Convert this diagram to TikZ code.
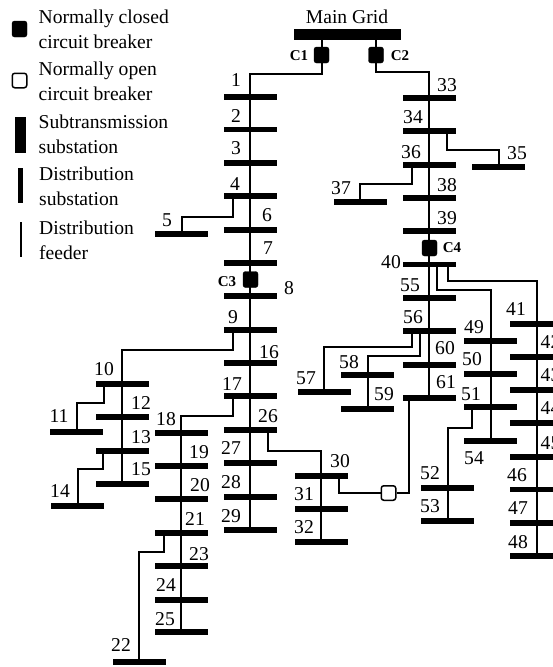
\documentclass[tikz,border=0pt]{standalone}
\usepackage{fontspec}
\setmainfont{Liberation Serif}
\usetikzlibrary{positioning}

\begin{document}
\begin{tikzpicture}[x=1pt,y=-1pt,
  bus/.style={fill=black,inner sep=0pt,minimum width=53pt,minimum height=5.2pt},
  num/.style={inner sep=0pt,font=\fontsize{19.6}{19.6}\selectfont},
  tag/.style={inner sep=0pt,font=\fontsize{15}{15}\selectfont\bfseries},
  closedcb/.style={fill=black,draw=black,rounded corners=2.5pt,inner sep=0pt,minimum width=15pt,minimum height=16pt},
  opencb/.style={fill=white,draw=black,line width=1.5pt,rounded corners=2.5pt,inner sep=0pt,minimum width=14.5pt,minimum height=14.5pt},
  legend/.style={inner sep=0pt,anchor=west,align=left,font=\fontsize{19.6}{24.6}\selectfont},
  feeder/.style={line width=2pt,line join=miter}]
\useasboundingbox (0,0) rectangle (553,667);
% legend
\node[closedcb] (keyC) at (19.5,29) {};
\node[opencb] (keyO) at (19.5,80.5) {};
\node[fill=black,inner sep=0pt,minimum width=11pt,minimum height=36pt] (keyS) at (20.5,135) {};
\node[fill=black,inner sep=0pt,minimum width=5.5pt,minimum height=35pt] (keyD) at (20.5,185.5) {};
\node[fill=black,inner sep=0pt,minimum width=2pt,minimum height=35pt] (keyF) at (20.5,239.5) {};
\node[legend] (txtC) at (38.5,29.5) {Normally closed\\circuit breaker};
\node[legend] (txtO) at (38.5,81) {Normally open\\circuit breaker};
\node[legend] (txtS) at (38.5,134) {Subtransmission\\substation};
\node[legend] (txtD) at (39,186) {Distribution\\substation};
\node[legend] (txtF) at (39,240) {Distribution\\feeder};
% main grid
\node[fill=black,inner sep=0pt,minimum width=107pt,minimum height=11pt] (grid) at (347.5,34) {};
\node[num] (gridtxt) at (347,17) {Main Grid};
\node[closedcb] (C1) at (321.5,55) {};
\node[closedcb] (C2) at (376,55) {};
\node[tag] (C1txt) at (299,55.5) {C1};
\node[tag] (C2txt) at (400,55.5) {C2};
\coordinate (j1) at (250,74);
\coordinate (j33) at (429,72);
\draw[feeder] (grid -| C1) -- (C1) |- (j1) -- (250,97);
\draw[feeder] (grid -| C2) -- (C2) |- (j33) -- (429,98);
% left feeder
\draw[feeder] (250,97) -- (250,530);
\node[bus] (b1) at (250.5,97) {}; \node[num] (n1) at (236,80) {1};
\node[bus] (b2) at (250.5,129.5) {}; \node[num] (n2) at (236,116) {2};
\node[bus] (b3) at (250.5,163) {}; \node[num] (n3) at (236,148) {3};
\node[bus] (b4) at (250.5,196) {}; \node[num] (n4) at (235,184) {4};
\node[bus] (b6) at (250.5,230) {}; \node[num] (n6) at (267,215) {6};
\node[bus] (b7) at (250.5,263) {}; \node[num] (n7) at (268,248) {7};
\node[bus] (b8) at (250.5,296) {}; \node[num] (n8) at (289,288) {8};
\node[bus] (b9) at (250.5,330) {}; \node[num] (n9) at (233,317) {9};
\node[bus] (b16) at (250.5,363) {}; \node[num] (n16) at (269,352) {16};
\node[bus] (b17) at (250.5,396) {}; \node[num] (n17) at (232,384) {17};
\node[bus] (b26) at (250.5,430) {}; \node[num] (n26) at (268,416) {26};
\node[bus] (b27) at (250.5,463) {}; \node[num] (n27) at (231,448) {27};
\node[bus] (b28) at (250.5,497) {}; \node[num] (n28) at (231,482) {28};
\node[bus] (b29) at (250.5,530) {}; \node[num] (n29) at (231,516) {29};
\node[closedcb] (C3) at (250.5,279.5) {};
\node[tag] (C3txt) at (227,282) {C3};
% bus 5
\coordinate (j5) at (233,217);
\draw[feeder] (b4 -| j5) -- (j5) -| (182,234);
\node[bus] (b5) at (181,234) {}; \node[num] (n5) at (167,220) {5};
% buses 10 to 15
\coordinate (j10) at (233,350);
\draw[feeder] (b9 -| j10) -- (j10) -| (122,484);
\node[bus] (b10) at (122.5,384) {}; \node[num] (n10) at (104,369) {10};
\node[bus] (b12) at (122,417) {}; \node[num] (n12) at (141,403) {12};
\node[bus] (b13) at (122,451) {}; \node[num] (n13) at (141,437) {13};
\node[bus] (b15) at (122,484) {}; \node[num] (n15) at (141,469) {15};
\coordinate (j11) at (104,403);
\draw[feeder] (b10 -| j11) -- (j11) -| (77,432);
\node[bus] (b11) at (76.5,432) {}; \node[num] (n11) at (59,416) {11};
\coordinate (j14) at (103,469);
\draw[feeder] (b13 -| j14) -- (j14) -| (78,506);
\node[bus] (b14) at (77.5,506) {}; \node[num] (n14) at (60,491) {14};
% buses 18 to 25
\coordinate (j18) at (233,416);
\draw[feeder] (b17 -| j18) -- (j18) -| (181,632);
\node[bus] (b18) at (181,433) {}; \node[num] (n18) at (166,419) {18};
\node[bus] (b19) at (181,466) {}; \node[num] (n19) at (199,452) {19};
\node[bus] (b20) at (181,499) {}; \node[num] (n20) at (200,485) {20};
\node[bus] (b21) at (181,533) {}; \node[num] (n21) at (195,519) {21};
\node[bus] (b23) at (181,566) {}; \node[num] (n23) at (199,554) {23};
\node[bus] (b24) at (181,600) {}; \node[num] (n24) at (166,585) {24};
\node[bus] (b25) at (181,632) {}; \node[num] (n25) at (165,619) {25};
\coordinate (j22) at (164,552);
\draw[feeder] (b21 -| j22) -- (j22) -| (139,662);
\node[bus] (b22) at (139.5,662) {}; \node[num] (n22) at (121,645) {22};
% buses 30 to 32
\coordinate (j30) at (268,451);
\draw[feeder] (b26 -| j30) -- (j30) -| (321,542);
\node[bus] (b30) at (321,476) {}; \node[num] (n30) at (340,461) {30};
\node[bus] (b31) at (321,509) {}; \node[num] (n31) at (304,494) {31};
\node[bus] (b32) at (321,542) {}; \node[num] (n32) at (304,527) {32};
% right feeder
\draw[feeder] (429,98) -- (429,398);
\node[bus] (b33) at (429.5,98) {}; \node[num] (n33) at (447,85) {33};
\node[bus] (b34) at (429.5,131) {}; \node[num] (n34) at (413,117) {34};
\node[bus] (b36) at (429.5,165) {}; \node[num] (n36) at (411,152) {36};
\node[bus] (b38) at (429.5,198) {}; \node[num] (n38) at (447,185) {38};
\node[bus] (b39) at (429.5,231) {}; \node[num] (n39) at (447,218) {39};
\node[bus] (b40) at (429.5,264.5) {}; \node[num] (n40) at (391,262) {40};
\node[bus] (b55) at (429.5,298) {}; \node[num] (n55) at (410,285) {55};
\node[bus] (b56) at (429.5,331) {}; \node[num] (n56) at (413,317) {56};
\node[bus] (b60) at (429.5,365) {}; \node[num] (n60) at (445,348) {60};
\node[bus] (b61) at (429.5,398) {}; \node[num] (n61) at (446,382) {61};
\node[closedcb] (C4) at (429.5,248) {};
\node[tag] (C4txt) at (452,248) {C4};
% bus 35 and bus 37
\coordinate (j35) at (447,150);
\draw[feeder] (b34 -| j35) -- (j35) -| (499,167);
\node[bus] (b35) at (498.5,167) {}; \node[num] (n35) at (517,153) {35};
\coordinate (j37) at (412,184);
\draw[feeder] (b36 -| j37) -- (j37) -| (360,202);
\node[bus] (b37) at (360,202) {}; \node[num] (n37) at (341,188) {37};
% buses 41 to 48
\coordinate (j41) at (448,281);
\draw[feeder] (b40 -| j41) -- (j41) -| (537,556);
\node[bus] (b41) at (536.5,324) {}; \node[num] (n41) at (516,309) {41};
\node[bus] (b42) at (536.5,357) {}; \node[num] (n42) at (550.5,342) {42};
\node[bus] (b43) at (536.5,390) {}; \node[num] (n43) at (550.5,375) {43};
\node[bus] (b44) at (536.5,423) {}; \node[num] (n44) at (550.5,408) {44};
\node[bus] (b45) at (536.5,457) {}; \node[num] (n45) at (550.5,443) {45};
\node[bus] (b46) at (536.5,489.5) {}; \node[num] (n46) at (517,475) {46};
\node[bus] (b47) at (536.5,523) {}; \node[num] (n47) at (518,508) {47};
\node[bus] (b48) at (536.5,556) {}; \node[num] (n48) at (518,542) {48};
% buses 49 to 54
\coordinate (j49) at (437,290);
\draw[feeder] (b40 -| j49) -- (j49) -| (491,441);
\node[bus] (b49) at (490.5,341) {}; \node[num] (n49) at (474,327) {49};
\node[bus] (b50) at (490.5,374) {}; \node[num] (n50) at (472,359) {50};
\node[bus] (b51) at (490.5,407) {}; \node[num] (n51) at (471,394) {51};
\node[bus] (b54) at (490.5,441) {}; \node[num] (n54) at (474,458) {54};
\coordinate (j52) at (472,428);
\draw[feeder] (b51 -| j52) -- (j52) -| (448,521);
\node[bus] (b52) at (447.5,488) {}; \node[num] (n52) at (430,473) {52};
\node[bus] (b53) at (447.5,521) {}; \node[num] (n53) at (430,506) {53};
% buses 57 to 59
\coordinate (j57) at (412,347);
\draw[feeder] (b56 -| j57) -- (j57) -| (324,392);
\node[bus] (b57) at (324.5,392) {}; \node[num] (n57) at (306,378) {57};
\coordinate (j58) at (420,356);
\draw[feeder] (b56 -| j58) -- (j58) -| (368,409);
\node[bus] (b58) at (367.5,375) {}; \node[num] (n58) at (349,362) {58};
\node[bus] (b59) at (367.5,409) {}; \node[num] (n59) at (384,394) {59};
% tie line
\coordinate (t1) at (339,493);
\coordinate (t2) at (409,493);
\node[opencb] (Cop) at (388.5,493) {};
\draw[feeder] (b30 -| t1) -- (t1) -- (Cop);
\draw[feeder] (Cop) -- (t2) -- (b61 -| t2);
\end{tikzpicture}
\end{document}
